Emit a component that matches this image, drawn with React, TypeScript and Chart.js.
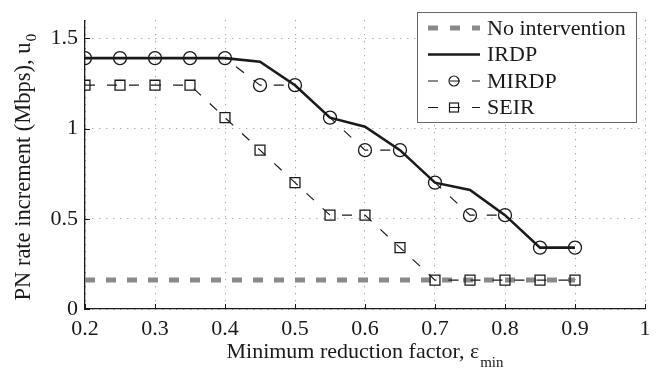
import React, { useEffect, useRef } from 'react';
import { Chart, registerables } from 'chart.js';
Chart.register(...registerables);

const FONT = "'Liberation Serif', 'Times New Roman', serif";

const reductionFactor = [0.2, 0.25, 0.3, 0.35, 0.4, 0.45, 0.5, 0.55, 0.6, 0.65, 0.7, 0.75, 0.8, 0.85, 0.9];
const noIntervention = [0.16, 0.16, 0.16, 0.16, 0.16, 0.16, 0.16, 0.16, 0.16, 0.16, 0.16, 0.16, 0.16, 0.16, 0.16];
const irdp = [1.39, 1.39, 1.39, 1.39, 1.39, 1.37, 1.24, 1.06, 1.01, 0.88, 0.7, 0.66, 0.52, 0.34, 0.34];
const mirdp = [1.39, 1.39, 1.39, 1.39, 1.39, 1.24, 1.24, 1.06, 0.88, 0.88, 0.7, 0.52, 0.52, 0.34, 0.34];
const seir = [1.24, 1.24, 1.24, 1.24, 1.06, 0.88, 0.7, 0.52, 0.52, 0.34, 0.16, 0.16, 0.16, 0.16, 0.16];

const xTicks = [0.2, 0.3, 0.4, 0.5, 0.6, 0.7, 0.8, 0.9, 1];
const yTicks = [0, 0.5, 1, 1.5];
const seriesLabels = ['No intervention', 'IRDP', 'MIRDP', 'SEIR'];
const xTitle = 'Minimum reduction factor, ε';
const xTitleSub = 'min';
const yTitle = 'PN rate increment (Mbps), u';
const yTitleSub = '0';

const GRAY = '#8a8a8a';
const INK = '#1a1a1a';

const toPoints = (ys: number[]) => reductionFactor.map((x, i) => ({ x, y: ys[i] }));

const decorPlugin = {
  id: 'decor',
  afterDraw(chart: any) {
    const ctx = chart.ctx as CanvasRenderingContext2D;
    const area = chart.chartArea;
    const xs = chart.scales.x;
    const ys = chart.scales.y;
    ctx.save();
    // inward tick marks
    ctx.strokeStyle = INK;
    ctx.lineWidth = 1;
    ctx.setLineDash([]);
    xTicks.forEach((v) => {
      const px = Math.round(xs.getPixelForValue(v)) + 0.5;
      ctx.beginPath();
      ctx.moveTo(px, area.bottom);
      ctx.lineTo(px, area.bottom - 5);
      ctx.stroke();
    });
    yTicks.forEach((v) => {
      const py = Math.round(ys.getPixelForValue(v)) + 0.5;
      ctx.beginPath();
      ctx.moveTo(area.left, py);
      ctx.lineTo(area.left + 5, py);
      ctx.stroke();
    });

    // axis titles
    const mainFont = `22px ${FONT}`;
    const subFont = `15px ${FONT}`;
    ctx.fillStyle = INK;
    ctx.textAlign = 'left';
    ctx.textBaseline = 'alphabetic';
    ctx.font = mainFont;
    const w1 = ctx.measureText(xTitle).width;
    ctx.font = subFont;
    const w2 = ctx.measureText(xTitleSub).width;
    const cx = (area.left + area.right) / 2;
    const sx = cx - (w1 + w2 + 1) / 2;
    ctx.font = mainFont;
    ctx.fillText(xTitle, sx, 358);
    ctx.font = subFont;
    ctx.fillText(xTitleSub, sx + w1 + 1, 367);

    ctx.save();
    const yMain = `22.5px ${FONT}`;
    const ySub = `15.5px ${FONT}`;
    ctx.font = yMain;
    const h1 = ctx.measureText(yTitle).width;
    ctx.font = ySub;
    const h2 = ctx.measureText(yTitleSub).width;
    const cy = (area.top + area.bottom) / 2 + 2.5;
    ctx.translate(30, cy);
    ctx.rotate(-Math.PI / 2);
    const sy = -(h1 + h2 + 1) / 2;
    ctx.font = yMain;
    ctx.fillText(yTitle, sy, 0);
    ctx.font = ySub;
    ctx.fillText(yTitleSub, sy + h1 + 1, 6);
    ctx.restore();

    // legend
    const bx = 417, by = 12, bw = 219, bh = 110;
    ctx.fillStyle = '#ffffff';
    ctx.fillRect(bx, by, bw, bh);
    ctx.strokeStyle = '#666';
    ctx.lineWidth = 1;
    ctx.strokeRect(bx + 0.5, by + 0.5, bw, bh);
    const rows = [28, 54.5, 81, 107.5];
    const lx0 = 428, lx1 = 480;
    rows.forEach((ry, i) => {
      ctx.save();
      ctx.beginPath();
      ctx.rect(lx0, ry - 10, lx1 - lx0, 20);
      ctx.clip();
      ctx.beginPath();
      if (i === 0) {
        ctx.strokeStyle = GRAY;
        ctx.lineWidth = 5;
        ctx.setLineDash([10, 12]);
      } else if (i === 1) {
        ctx.strokeStyle = INK;
        ctx.lineWidth = 2.5;
        ctx.setLineDash([]);
      } else {
        ctx.strokeStyle = INK;
        ctx.lineWidth = 1.2;
        ctx.setLineDash([10, 12]);
      }
      ctx.moveTo(lx0, ry);
      ctx.lineTo(lx1 + 4, ry);
      ctx.stroke();
      ctx.restore();
      ctx.setLineDash([]);
      ctx.strokeStyle = INK;
      ctx.lineWidth = 1.2;
      const mx = (lx0 + lx1) / 2;
      if (i === 2) {
        ctx.beginPath();
        ctx.arc(mx, ry, 5, 0, Math.PI * 2);
        ctx.stroke();
      } else if (i === 3) {
        ctx.strokeRect(mx - 4.5, ry - 4.5, 9, 9);
      }
      ctx.fillStyle = INK;
      ctx.font = mainFont;
      ctx.textBaseline = 'middle';
      ctx.fillText(seriesLabels[i], 487, ry + 1);
    });
    ctx.restore();
  },
};

export default function App() {
  const ref = useRef<HTMLCanvasElement | null>(null);
  useEffect(() => {
    document.body.style.margin = '0';
    const canvas = ref.current;
    if (!canvas) return;
    const chart = new Chart(canvas, {
      type: 'line',
      data: {
        datasets: [
          {
            label: seriesLabels[1],
            data: toPoints(irdp),
            borderColor: INK,
            borderWidth: 2.6,
            pointRadius: 0,
            fill: false,
            tension: 0,
            order: 1,
          },
          {
            label: seriesLabels[2],
            data: toPoints(mirdp),
            borderColor: INK,
            borderWidth: 1.2,
            borderDash: [10, 12],
            pointStyle: 'circle',
            pointRadius: 6.5,
            pointBorderWidth: 1.3,
            pointBorderColor: INK,
            pointBackgroundColor: 'rgba(0,0,0,0)',
            fill: false,
            tension: 0,
            order: 2,
          },
          {
            label: seriesLabels[3],
            data: toPoints(seir),
            borderColor: INK,
            borderWidth: 1.2,
            borderDash: [10, 12],
            pointStyle: 'rect',
            pointRadius: 7,
            pointBorderWidth: 1.3,
            pointBorderColor: INK,
            pointBackgroundColor: 'rgba(0,0,0,0)',
            fill: false,
            tension: 0,
            order: 3,
          },
          {
            label: seriesLabels[0],
            data: toPoints(noIntervention),
            borderColor: GRAY,
            borderWidth: 5,
            borderDash: [10, 11],
            borderCapStyle: 'butt',
            pointRadius: 0,
            fill: false,
            order: 4,
          },
        ],
      },
      options: {
        responsive: false,
        animation: false,
        devicePixelRatio: 1,
        layout: { padding: { left: 0, right: 19, top: 2, bottom: 0 } },
        plugins: {
          legend: { display: false },
          tooltip: { enabled: false },
          title: { display: false },
        },
        scales: {
          x: {
            type: 'linear',
            min: 0.2,
            max: 1,
            afterBuildTicks: (scale: any) => {
              scale.ticks = xTicks.map((v) => ({ value: v }));
            },
            afterFit: (scale: any) => {
              scale.height = 68;
            },
            ticks: {
              autoSkip: false,
              maxRotation: 0,
              padding: 7,
              color: INK,
              font: { family: FONT, size: 22 },
              callback: (v: any) => String(v),
            },
            grid: {
              color: '#8c8c8c',
              lineWidth: 1,
              drawTicks: false,
            },
            border: { display: true, color: INK, width: 1.3, dash: [1, 6] },
          },
          y: {
            type: 'linear',
            min: 0,
            max: 1.6,
            afterBuildTicks: (scale: any) => {
              scale.ticks = yTicks.map((v) => ({ value: v }));
            },
            afterFit: (scale: any) => {
              scale.width = 85;
            },
            ticks: {
              padding: 7,
              color: INK,
              font: { family: FONT, size: 22 },
              callback: (v: any) => String(v),
            },
            grid: {
              color: '#8c8c8c',
              lineWidth: 1,
              drawTicks: false,
            },
            border: { display: true, color: INK, width: 1.3, dash: [1, 6] },
          },
        },
      },
      plugins: [decorPlugin],
    });
    return () => chart.destroy();
  }, []);
  return (
    <div style={{ width: 664, height: 377, background: '#fff' }}>
      <canvas ref={ref} width={664} height={377} style={{ display: 'block' }} />
    </div>
  );
}
